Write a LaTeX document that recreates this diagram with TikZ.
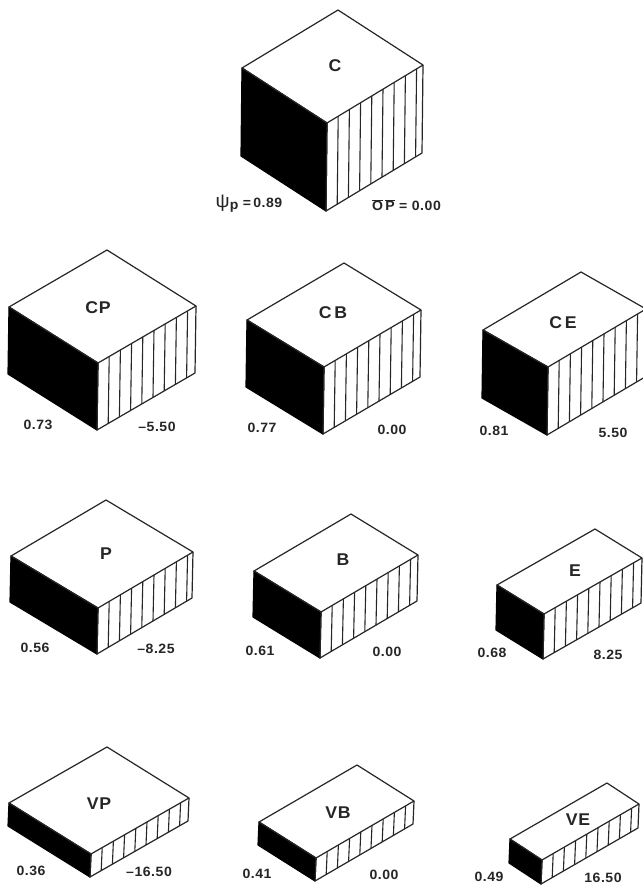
\documentclass[tikz,border=0pt]{standalone}
\usepackage{fontspec}
\setmainfont{Liberation Sans}
\newfontfamily\labfont[FakeStretch=1.04,LetterSpace=4]{Liberation Sans}
\usetikzlibrary{calc}
\definecolor{ink}{HTML}{262626}
\tikzset{
  x=1pt,y=-1pt,
  edge/.style={line width=1.2pt,draw=ink,line join=round},
  stripe/.style={line width=1.1pt,draw=ink},
  darkface/.style={fill=black,draw=black,line width=1.2pt,line join=round},
  letterlab/.style={inner sep=0pt,text=ink,font=\labfont\fontsize{17}{17}\selectfont\bfseries},
  numlab/.style={inner sep=0pt,text=ink,font=\labfont\fontsize{13.5}{14}\selectfont\bfseries}
}
\newcommand{\ovl}[1]{$\overline{\hbox{#1}}$}
% name, left x y, back x y, right x y, height
\newcommand{\blockdraw}[8]{%
  \coordinate (#1L) at (#2,#3);
  \coordinate (#1B) at (#4,#5);
  \coordinate (#1R) at (#6,#7);
  \coordinate (#1F) at ($(#1L)+(#1R)-(#1B)$);
  \coordinate (#1Ld) at ($(#1L)+(-1,#8)$);
  \coordinate (#1Fd) at ($(#1F)+(-1,#8)$);
  \coordinate (#1Rd) at ($(#1R)+(-1,#8)$);
  \draw[darkface] (#1L) -- (#1F) -- (#1Fd) -- (#1Ld) -- cycle;
  \draw[edge] (#1L) -- (#1B) -- (#1R) -- (#1F) -- cycle;
  \draw[edge] (#1F) -- (#1Fd) -- (#1Rd) -- (#1R);
  \pgfmathsetmacro{\tstep}{11.2/(#6-(#2+#6-#4))}
  \foreach \i in {1,...,8}{
    \pgfmathsetmacro{\tt}{\i*\tstep}
    \draw[stripe] ($(#1F)!\tt!(#1R)$) -- ($(#1Fd)!\tt!(#1Rd)$);
  }%
}
\begin{document}
\begin{tikzpicture}
\clip (0,0) rectangle (643,887);
\fill[white] (0,0) rectangle (643,887);

\blockdraw{c}{242}{68}{338}{10}{423}{65}{88}
\blockdraw{cp}{9}{307}{107}{250}{196}{306}{67}
\blockdraw{cb}{247}{320}{344}{263}{421}{310}{67}
\blockdraw{ce}{483}{330}{581}{272}{646}{309}{68}
\blockdraw{p}{11}{556}{106}{500}{193}{552}{46}
\blockdraw{b}{254}{571}{351}{514}{418}{555}{46}
\blockdraw{e}{497}{585}{595}{529}{642}{558}{45}
\blockdraw{vp}{9}{803}{107}{747}{189}{798}{23}
\blockdraw{vb}{259}{822}{357}{765}{414}{801}{23}
\blockdraw{ve}{510}{839}{607}{783}{639}{804}{24}

\node[letterlab] (tc) at (335,66) {C};
\node[letterlab] (tcp) at (98,308) {CP};
\node[letterlab] (tcb) at (333,313) {C\,B};
\node[letterlab] (tce) at (563,323) {C\,E};
\node[letterlab] (tp) at (106,554) {P};
\node[letterlab] (tb) at (343,560) {B};
\node[letterlab] (te) at (575,571) {E};
\node[letterlab] (tvp) at (99,804) {VP};
\node[letterlab] (tvb) at (338,813) {VB};
\node[letterlab] (tve) at (578,820) {VE};

\node[numlab] (psi) at (249,204) {{\fontsize{19}{19}\selectfont\mdseries\char"03C8}{\raisebox{-2pt}{p}}\,\,=\,0.89};
\node[numlab] (op) at (406.5,205) {\ovl{O}\,\ovl{P}\,\,=\,\,0.00};
\node[numlab] (a1) at (38,425) {0.73};
\node[numlab] (a2) at (157,427) {–5.50};
\node[numlab] (b1) at (262,428) {0.77};
\node[numlab] (b2) at (392,430) {0.00};
\node[numlab] (c1) at (494,431) {0.81};
\node[numlab] (c2) at (613,433) {5.50};
\node[numlab] (d1) at (35,648) {0.56};
\node[numlab] (d2) at (156,649) {–8.25};
\node[numlab] (e1) at (260,651) {0.61};
\node[numlab] (e2) at (387,652) {0.00};
\node[numlab] (f1) at (492,653) {0.68};
\node[numlab] (f2) at (608,655) {8.25};
\node[numlab] (g1) at (31,871) {0.36};
\node[numlab] (g2) at (149,872) {–16.50};
\node[numlab] (h1) at (257,874) {0.41};
\node[numlab] (h2) at (384,875) {0.00};
\node[numlab] (i1) at (489,877) {0.49};
\node[numlab] (i2) at (603,878) {16.50};
\end{tikzpicture}
\end{document}
